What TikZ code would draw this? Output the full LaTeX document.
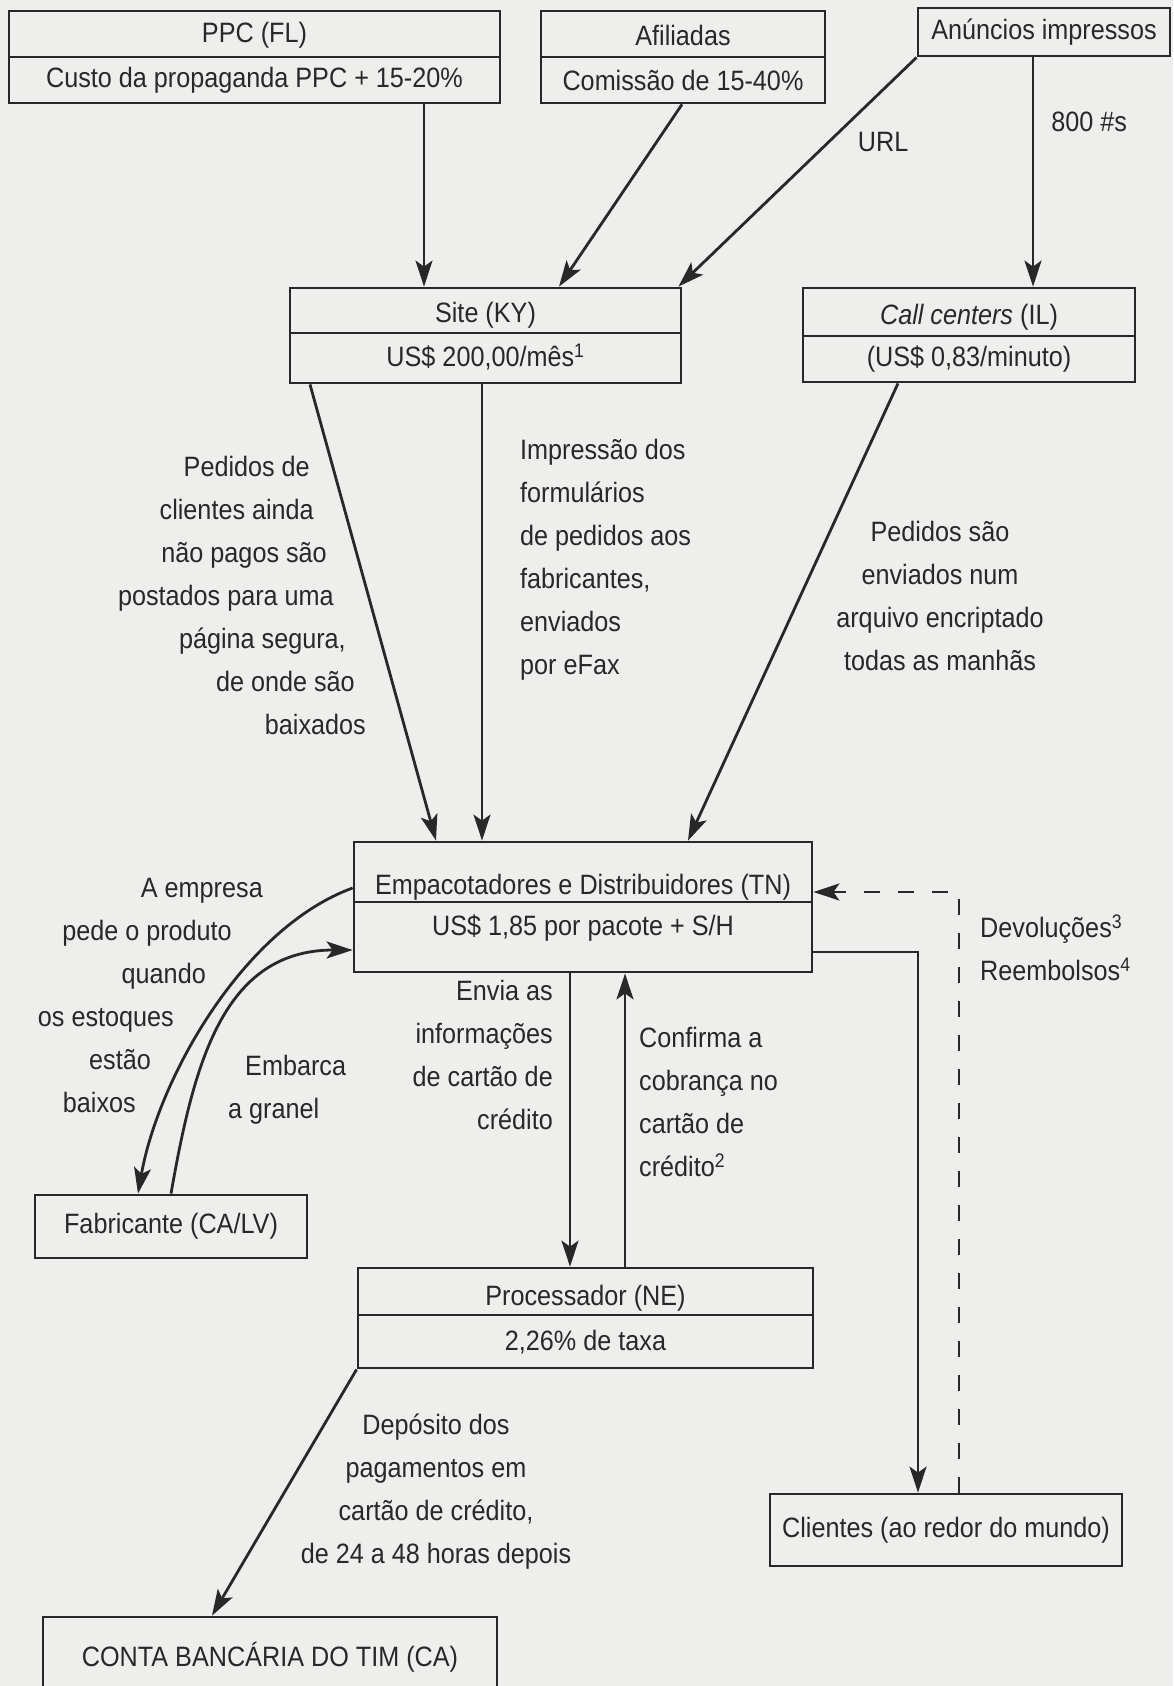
\documentclass[tikz,border=0pt]{standalone}
\usepackage{fontspec}
\setmainfont{Liberation Sans}[FakeStretch=0.9]
\usetikzlibrary{positioning,calc,arrows.meta}
\definecolor{ink}{RGB}{40,40,40}
\definecolor{paper}{RGB}{238,238,236}
\tikzstyle{edge} = [-{Stealth[length=26pt,width=17pt,inset=6pt]}, line width=2.8pt, draw=ink]
\tikzstyle{box} = [draw=ink, line width=2.8pt]

\begin{document}
\begin{tikzpicture}[x=1pt, y=-1pt]
\tikzstyle{every node}=[align=center, inner sep=0pt, text=ink, font=\fontsize{28}{43}\selectfont]
	\fill[paper] (0,0) rectangle (1173,1686);
	\useasboundingbox (0,0) rectangle (1173,1686);

	% sources
	\node[box, minimum width=491pt, minimum height=92pt] (ppc) at (254.5,57) {};
	\node (ppcname) at (254.5,35) {PPC (FL)};
	\node (ppccost) at (254.5,80) {Custo da propaganda PPC + 15-20\%};
	\draw[box] (ppc.west) -- (ppc.east);
	\node[box, minimum width=284pt, minimum height=92pt] (afil) at (683,57) {};
	\node (afilname) at (683,35) {Afiliadas};
	\node (afilcost) at (683,80) {Comissão de 15-40\%};
	\draw[box] (afil.west) -- (afil.east);
	\node[box, minimum width=252pt, minimum height=48pt] (anun) at (1044,32) {Anúncios impressos};

	% order channels
	\node[box, minimum width=391pt, minimum height=95pt] (site) at (485.5,335.5) {};
	\node (sitename) at (485.5,315) {Site (KY)};
	\node (sitecost) at (485.5,357) {US\$ 200,00/mês\textsuperscript{1}};
	\draw[box] ([yshift=2.5pt]site.west) -- ([yshift=2.5pt]site.east);
	\node[box, minimum width=332pt, minimum height=94pt] (call) at (969,335) {};
	\node (callname) at (969,317) {\textit{Call centers} (IL)};
	\node (callcost) at (969,359) {(US\$ 0,83/minuto)};
	\draw[box] ([yshift=-1pt]call.west) -- ([yshift=-1pt]call.east);

	% fulfilment
	\node[box, minimum width=458pt, minimum height=130pt] (emp) at (583,907) {};
	\node (empname) at (583,887) {Empacotadores e Distribuidores (TN)};
	\node (empcost) at (583,928) {US\$ 1,85 por pacote + S/H};
	\draw[box] ([yshift=5pt]emp.west) -- ([yshift=5pt]emp.east);
	\node[box, minimum width=272pt, minimum height=63pt] (fab) at (171,1226.5) {Fabricante (CA/LV)};
	\node[box, minimum width=455pt, minimum height=100pt] (proc) at (585.5,1318) {};
	\node (procname) at (585.5,1298) {Processador (NE)};
	\node (proccost) at (585.5,1342) {2,26\% de taxa};
	\draw[box] ([yshift=3pt]proc.west) -- ([yshift=3pt]proc.east);
	\node[box, minimum width=352pt, minimum height=72pt] (cli) at (946,1530) {Clientes (ao redor do mundo)};
	\node[box, minimum width=454pt, minimum height=80pt] (conta) at (270,1657) {CONTA BANCÁRIA DO TIM (CA)};

	% text on the flows
	\node[anchor=east, align=right] (unpaid) at (366,595) {Pedidos de\kern56pt\\clientes ainda\kern52pt\\não pagos são\kern39pt\\postados para uma\kern32pt\\página segura,\kern20pt\\de onde são\kern11pt\\baixados};
	\node[anchor=west, align=left] (efax) at (520,560) {Impressão dos\\formulários\\de pedidos aos\\fabricantes,\\enviados\\por eFax};
	\node (nightly) at (940,596) {Pedidos são\\enviados num\\arquivo encriptado\\todas as manhãs};
	\node[anchor=east, align=right] (reorder) at (263,995) {A empresa\\pede o produto\kern31pt\\quando\kern57pt\\os estoques\kern89pt\\estão\kern112pt\\baixos\kern127pt};
	\node[anchor=west, align=left] (bulk) at (228,1090) {\kern17pt Embarca\\a granel};
	\node[anchor=east, align=right] (cardinfo) at (553,1055) {Envia as\\informações\\de cartão de\\crédito};
	\node[anchor=west, align=left] (confirm) at (639,1102) {Confirma a\\cobrança no\\cartão de\\crédito\textsuperscript{2}};
	\node[anchor=west, align=left] (returns) at (980,948) {Devoluções\textsuperscript{3}\\Reembolsos\textsuperscript{4}};
	\node (deposit) at (436,1492) {Depósito dos\\pagamentos em\\cartão de crédito,\\de 24 a 48 horas depois};

	\draw[edge] ([xshift=169.5pt]ppc.south) -- ([xshift=-61.5pt]site.north);
	\draw[edge] ([xshift=-1pt]afil.south) -- ([xshift=73.5pt]site.north);
	\draw[edge] (anun.south west) -- node[pos=0.37, right=28pt] (url) {URL} ([xshift=-4pt]site.north east);
	\draw[edge] ([xshift=-11pt]anun.south) -- node[pos=0.28, right=17pt] (tollfree) {800 \#s} ([xshift=64pt]call.north);
	\draw[edge] ([xshift=-175.5pt]site.south) -- ([xshift=-147pt]emp.north);
	\draw[edge] ([xshift=-3.5pt]site.south) -- ([xshift=-101pt]emp.north);
	\draw[edge] ([xshift=-71pt]call.south) -- ([xshift=105pt]emp.north);
	\draw[edge] ([yshift=19pt]emp.west) to[out=200, in=80, looseness=0.8] ([xshift=-33pt]fab.north);
	\draw[edge] (fab.north) to[out=80, in=180, looseness=1.1] ([yshift=-43pt]emp.west);
	\draw[edge] ([xshift=-13pt]emp.south) -- ([xshift=-15.5pt]proc.north);
	\draw[edge] ([xshift=39.5pt]proc.north) -- ([xshift=42pt]emp.south);
	\draw[edge] ([yshift=-45pt]emp.east) -| ([xshift=-28pt]cli.north);
	\draw[edge, dash pattern=on 16pt off 18pt] ([xshift=13pt]cli.north) |- ([yshift=15pt]emp.east);
	\draw[edge] (proc.south west) -- ([xshift=-58pt]conta.north);
\end{tikzpicture}
\end{document}
